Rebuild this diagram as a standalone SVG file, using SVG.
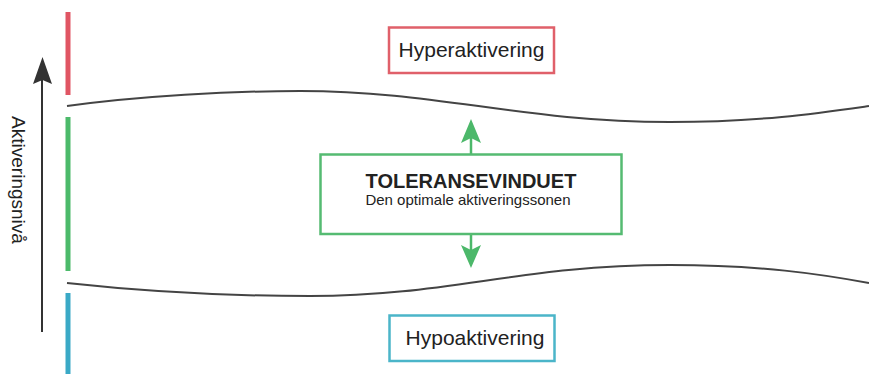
<svg xmlns="http://www.w3.org/2000/svg" width="869" height="374" viewBox="0 0 869 374">
  <style>
    text { font-family: "Liberation Sans", Arial, sans-serif; fill: #222; }
    .box { fill: #fff; stroke-width: 2.5; }
    .bar { stroke-width: 5; fill: none; }
    .edge { fill: none; stroke: #444; stroke-width: 2; }
    .axis { stroke: #333; stroke-width: 2; fill: none; }
    .garrow { stroke: #4cb86a; stroke-width: 2.5; fill: none; }
  </style>
  <defs>
    <marker id="axisHead" viewBox="0 0 20 26" refX="10" refY="0" markerWidth="20" markerHeight="26" markerUnits="userSpaceOnUse" orient="auto-start-reverse">
      <path d="M10,0 L19,26 L10,22 L1,26 Z" fill="#333"/>
    </marker>
  </defs>
  <rect width="869" height="374" fill="#fff"/>

  <!-- vertical axis with label -->
  <g id="axis">
    <line class="axis" x1="42" y1="332" x2="42" y2="80"/>
    <path d="M42.5,57 L52,84 L42.5,80 L33,84 Z" fill="#333"/>
    <text transform="translate(12,180) rotate(90)" font-size="19" text-anchor="middle">Aktiveringsnivå</text>
  </g>

  <!-- zone colour bars -->
  <g id="bars">
    <line class="bar" x1="68" y1="12" x2="68" y2="95" stroke="#e05563"/>
    <line class="bar" x1="68" y1="117" x2="68" y2="271" stroke="#4cba6a"/>
    <line class="bar" x1="68" y1="293" x2="68" y2="374" stroke="#3aa9c6"/>
  </g>

  <!-- window boundaries and arrows -->
  <g id="connectors">
    <path class="edge" d="M67,106 C140,96 230,91 300,91 C440,91 520,122 670,122 C760,122 820,113 869,106"/>
    <path class="edge" d="M67,283 C140,291 230,296 310,296 C450,296 520,265 670,265 C760,265 820,274 869,283"/>
    <line class="garrow" x1="471" y1="154" x2="471" y2="138"/>
    <path d="M471,119 L481,143 L471,138 L461,143 Z" fill="#4cb86a"/>
    <line class="garrow" x1="471" y1="234" x2="471" y2="250"/>
    <path d="M471,268 L481,245 L471,250 L461,245 Z" fill="#4cb86a"/>
  </g>

  <g id="hyper">
    <rect class="box" x="389" y="27.5" width="165" height="45.5" stroke="#e0606a"/>
    <text x="471.5" y="57" font-size="21" text-anchor="middle">Hyperaktivering</text>
  </g>

  <g id="window">
    <rect class="box" x="320.5" y="154.5" width="301" height="79.5" stroke="#55bb72"/>
    <text x="471" y="188" font-size="20" font-weight="bold" text-anchor="middle">TOLERANSEVINDUET</text>
    <text x="468" y="205" font-size="15" text-anchor="middle">Den optimale aktiveringssonen</text>
  </g>

  <g id="hypo">
    <rect class="box" x="389.5" y="315.5" width="165" height="45.5" stroke="#4bb5c9"/>
    <text x="475" y="345" font-size="21" text-anchor="middle">Hypoaktivering</text>
  </g>
</svg>
